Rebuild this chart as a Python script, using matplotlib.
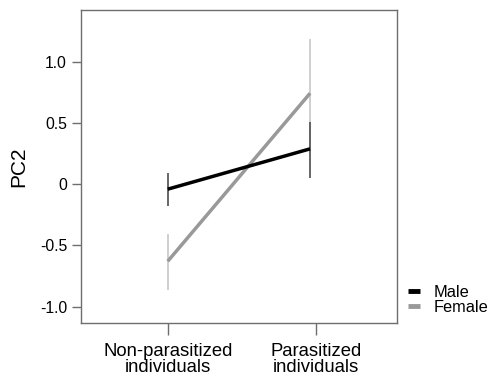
import matplotlib
matplotlib.use("Agg")
import matplotlib.pyplot as plt

plt.rcParams['font.family'] = ['Liberation Sans', 'DejaVu Sans']

categories = ["Non-parasitized\nindividuals", "Parasitized\nindividuals"]
tick_pos = [0, 1]
point_x = [0, 0.96]
male_mean = [-0.04, 0.29]
male_lo = [-0.18, 0.054]
male_hi = [0.09, 0.51]
female_mean = [-0.63, 0.745]
female_lo = [-0.865, 0.30]
female_hi = [-0.41, 1.19]
yticks = [-1.0, -0.5, 0, 0.5, 1.0]
ytick_labels = ["-1.0", "-0.5", "0", "0.5", "1.0"]

fig = plt.figure(figsize=(4.92, 3.8), dpi=100)
ax = fig.add_axes([0.1646, 0.15, 0.6417, 0.8237])

frame_col = "#6e6e6e"
# error bars
ax.vlines(point_x, female_lo, female_hi, color="#cccccc", lw=1.3, zorder=2)
ax.vlines(point_x, male_lo, male_hi, color="#5a5a5a", lw=1.3, zorder=3)
ax.plot(point_x, female_mean, color="#999999", lw=2.5, label="Female", zorder=4, solid_capstyle="butt")
ax.plot(point_x, male_mean, color="black", lw=2.5, label="Male", zorder=5, solid_capstyle="butt")

ax.set_xlim(-0.585, 1.544)
ax.set_ylim(-1.135, 1.426)
ax.set_xticks(tick_pos)
ax.set_xticklabels(categories, fontsize=13.3, linespacing=0.92)
ax.set_yticks(yticks)
ax.set_yticklabels(ytick_labels, fontsize=11.3)
ax.set_ylabel("PC2", fontsize=15, labelpad=8)
for s in ax.spines.values():
    s.set_color(frame_col)
    s.set_linewidth(1.0)
ax.tick_params(axis="x", color=frame_col, length=8.5, width=1.0, pad=6)
ax.tick_params(axis="y", color=frame_col, length=6.5, width=1.0, pad=3.5)

h, l = ax.get_legend_handles_labels()
order = [1, 0]
leg = fig.legend([h[i] for i in order], [l[i] for i in order], loc="center left",
                 bbox_to_anchor=(0.829, 0.211), frameon=False, fontsize=11.8,
                 handlelength=0.72, handletextpad=0.84, labelspacing=0.0,
                 borderpad=0, borderaxespad=0)
for line in leg.get_lines():
    line.set_linewidth(3.5)

fig.savefig("out.png", dpi=100)
